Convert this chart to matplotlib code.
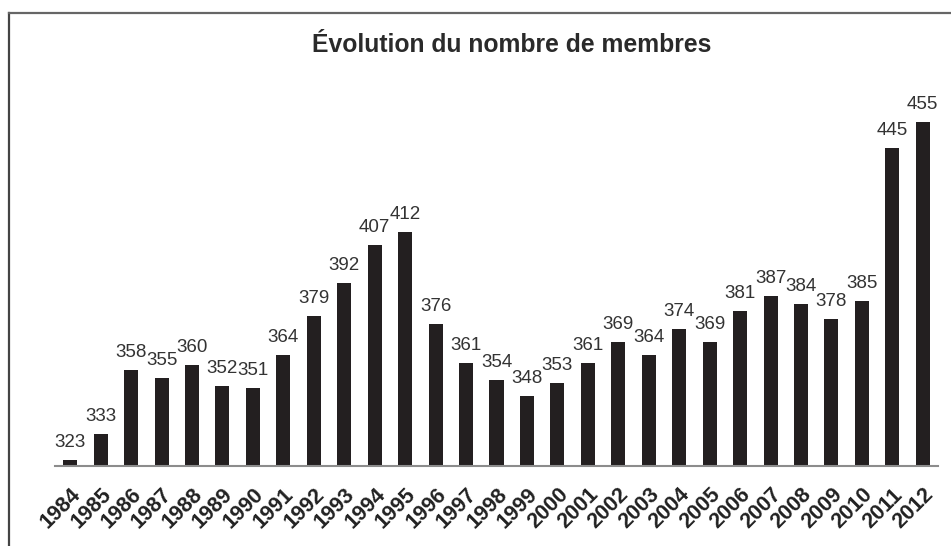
#!/usr/bin/env python3
"""Bar chart: Évolution du nombre de membres, 1984-2012."""

import matplotlib

matplotlib.use("Agg")
import matplotlib.pyplot as plt
from matplotlib.lines import Line2D

YEARS = [str(y) for y in range(1984, 2013)]
MEMBERS = [323, 333, 358, 355, 360, 352, 351, 364, 379, 392, 407, 412, 376, 361, 354,
           348, 353, 361, 369, 364, 374, 369, 381, 387, 384, 378, 385, 445, 455]
TITLE = "Évolution du nombre de membres"

W, H = 951, 546
BAR_COLOR = "#231f20"
TEXT_COLOR = "#333333"

plt.rcParams["font.family"] = ["Liberation Sans", "DejaVu Sans"]


def main() -> None:
    fig = plt.figure(figsize=(W / 100, H / 100), dpi=100)
    left, right, bottom, top = 55, 938, 466, 60
    ax = fig.add_axes([left / W, 1 - bottom / H, (right - left) / W, (bottom - top) / H])

    x = list(range(len(YEARS)))
    ax.bar(x, MEMBERS, width=0.46, color=BAR_COLOR, bottom=0)
    ax.set_xlim(-0.5, len(YEARS) - 0.5)
    px_per_unit = 2.56
    y0 = 320.6
    ax.set_ylim(y0, y0 + (bottom - top) / px_per_unit)

    for xi, v in zip(x, MEMBERS):
        ax.annotate(str(v), (xi, v), xytext=(0, 13), textcoords="offset pixels",
                    ha="center", va="baseline", fontsize=13.5, color=TEXT_COLOR)

    ax.set_xticks(x)
    ax.set_xticklabels(YEARS, rotation=45, ha="right", va="top", rotation_mode="anchor",
                       fontsize=15.5, fontweight="bold", color="#222222")
    ax.tick_params(axis="x", length=0, pad=13)
    ax.set_yticks([])
    for side in ("top", "right", "left"):
        ax.spines[side].set_visible(False)
    ax.spines["bottom"].set_color("#8c8c8c")
    ax.spines["bottom"].set_linewidth(1.5)

    fig.text(512 / W, 1 - 45 / H, TITLE, ha="center", va="center", fontsize=17.8,
             fontweight="bold", color="#2a2a2a")

    # outer frame, cut off on the right and bottom edges
    fx, fy = 9 / W, 1 - 13 / H
    fig.add_artist(Line2D([fx, fx], [0, fy], transform=fig.transFigure, color="#444444", lw=1.6))
    fig.add_artist(Line2D([fx, 1], [fy, fy], transform=fig.transFigure, color="#666666", lw=1.6))

    fig.savefig("out.png", dpi=100)
    plt.close(fig)


if __name__ == "__main__":
    main()
